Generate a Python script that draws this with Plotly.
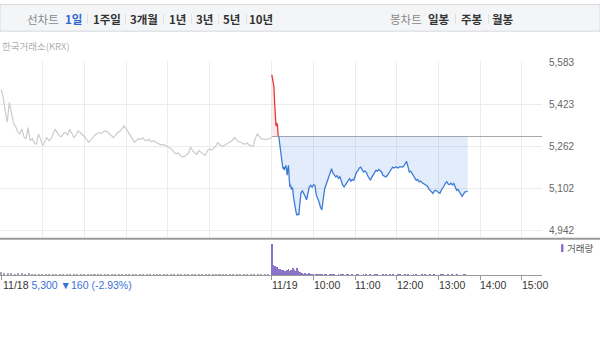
import plotly.graph_objects as go

W, H = 600, 342

# ---------------- data ----------------
PREV_CLOSE = 5300
PREV_PRICE = [
    5480, 5452, 5398, 5355, 5430, 5395, 5350, 5338, 5318, 5310,
    5328, 5300, 5290, 5334, 5284, 5292, 5275, 5271, 5309, 5290,
    5265, 5280, 5296, 5284, 5290, 5310, 5328, 5315, 5303, 5300,
    5312, 5315, 5305, 5328, 5310, 5296, 5305, 5321, 5315, 5309,
    5300, 5290, 5278, 5285, 5296, 5305, 5310, 5315, 5312, 5318,
    5321, 5318, 5310, 5300, 5296, 5305, 5315, 5320, 5332, 5340,
    5330, 5315, 5305, 5292, 5278, 5285, 5292, 5288, 5295, 5286,
    5284, 5290, 5280, 5284, 5278, 5275, 5271, 5268, 5270, 5265,
    5262, 5258, 5252, 5240, 5233, 5238, 5227, 5222, 5224, 5230,
    5236, 5260, 5245, 5238, 5232, 5246, 5240, 5232, 5227, 5245,
    5252, 5248, 5255, 5262, 5276, 5268, 5262, 5265, 5270, 5274,
    5278, 5285, 5296, 5288, 5280, 5278, 5274, 5270, 5276, 5268,
    5265, 5262, 5290, 5309, 5300, 5292, 5290, 5288, 5290, 5292,
    5296,
]
PREV_STEP = 3  # minutes between previous-day samples

TODAY_MIN = list(range(0, 41)) + list(range(42, 283, 2))
TODAY_PRICE = [
    5535, 5520, 5505, 5490, 5430, 5360, 5340, 5352, 5345, 5305, 5300,
    5275, 5245, 5228, 5215, 5196, 5177, 5183, 5172, 5184, 5190,
    5178, 5152, 5175, 5190, 5138, 5108, 5116, 5098, 5106, 5101,
    5072, 5051, 5040, 5022, 5010, 5001, 5001, 5004, 5001, 5035,
    5085, 5092, 5083, 5072, 5058, 5080, 5108, 5114, 5106, 5116,
    5114, 5077, 5065, 5050, 5030, 5020, 5060, 5100, 5115, 5132,
    5145, 5160, 5177, 5160, 5150, 5146, 5150, 5140, 5146, 5130,
    5115, 5108, 5115, 5121, 5128, 5139, 5130, 5136, 5133, 5150,
    5164, 5170, 5180, 5183, 5172, 5164, 5168, 5164, 5150, 5140,
    5133, 5145, 5152, 5162, 5171, 5168, 5174, 5171, 5165, 5152,
    5150, 5146, 5150, 5160, 5164, 5175, 5183, 5180, 5184, 5183,
    5180, 5185, 5183, 5183, 5186, 5195, 5205, 5185, 5164, 5168,
    5158, 5152, 5140, 5133, 5136, 5127, 5130, 5124, 5121, 5118,
    5114, 5110, 5100, 5095, 5090, 5083, 5092, 5095, 5090, 5088,
    5083, 5095, 5102, 5112, 5122, 5127, 5118, 5117, 5122, 5115,
    5121, 5108, 5095, 5098, 5089, 5085, 5072, 5080, 5089, 5090,
    5092,
]

PREV_VOL = [
    8, 5, 6, 7, 4, 5, 6, 4, 5, 3,
    4, 3, 4, 3, 2, 3, 4, 2, 3, 3,
    2, 3, 2, 3, 2, 2, 3, 2, 3, 2,
    2, 3, 2, 2, 3, 2, 2, 3, 2, 3,
    2, 2, 3, 2, 4, 3, 2, 3, 2, 2,
    3, 2, 2, 3, 2, 2, 3, 2, 2, 3,
    2, 3, 2, 2, 3, 2, 2, 3, 2, 2,
    3, 2, 2, 3, 2, 3, 2, 3, 4,
]
PREV_VOL_STEP = 5
TODAY_VOL = [
    92, 30, 26, 20, 24, 17, 19, 14, 16, 13,
    12, 15, 18, 11, 14, 21, 15, 13, 20, 12,
    9, 6, 5, 4, 5, 3, 4, 6, 3, 4,
    3, 0, 4, 3, 0, 3, 4, 0, 3, 2,
    0, 0, 3, 4, 0, 3, 0, 0, 3, 0,
    2, 3, 0, 0, 2, 3, 0, 0, 3, 0,
    0, 2, 3, 0, 0, 0, 3, 0, 2, 0,
    0, 3, 0, 0, 2, 0, 3, 0, 0, 0,
    3, 0, 2, 0, 0, 3, 0, 2, 0, 0,
    0, 2, 3, 0, 0, 0, 2, 0, 3, 0,
    0, 0, 2, 0, 3, 0, 0, 0, 2, 0,
    3, 0, 0, 0, 2, 0, 0, 3, 0, 0,
    0, 0, 2, 3, 0, 0, 0, 2, 0, 0,
    3, 0, 0, 2, 0, 0, 0, 0, 2, 3,
    0, 0,
]
TODAY_VOL_STEP = 2

Y_TICKS = [4942, 5102.25, 5262.5, 5422.75, 5583]
Y_LABELS = ["4,942", "5,102", "5,262", "5,423", "5,583"]
GRID_MIN = [60, 120, 180, 240, 300, 390, 450, 510, 570, 630, 690, 750]
TIME_TICKS = [390, 450, 510, 570, 630, 690, 750]
TIME_LABELS = ["11/19", "10:00", "11:00", "12:00", "13:00", "14:00", "15:00"]
DAY_OFFSET = 390  # minutes in one session

TABS_LEFT = ["선차트", "1일", "1주일", "3개월", "1년", "3년", "5년", "10년"]
TABS_RIGHT = ["봉차트", "일봉", "주봉", "월봉"]

# ---------------- helpers ----------------
def py(p):
    return 1 - p / H

def px_(p):
    return p / W

KFONT = "Noto Sans CJK KR"
NFONT = "Liberation Sans, Arial"

prev_x = [i * PREV_STEP for i in range(len(PREV_PRICE))]
today_x = [m + DAY_OFFSET for m in TODAY_MIN]

# split index where the price crosses the previous close
cross = next(i for i, v in enumerate(TODAY_PRICE) if v <= PREV_CLOSE)
red_x, red_y = today_x[:cross + 1], TODAY_PRICE[:cross + 1]
blue_x, blue_y = today_x[cross:], TODAY_PRICE[cross:]

fig = go.Figure()

# previous-close reference line
fig.add_trace(go.Scatter(x=[DAY_OFFSET, 2 * DAY_OFFSET], y=[PREV_CLOSE, PREV_CLOSE],
                         mode="lines", line=dict(color="#a9a9a9", width=1),
                         hoverinfo="skip", showlegend=False))
# fills
fig.add_trace(go.Scatter(x=red_x + [red_x[-1], red_x[0]], y=red_y + [PREV_CLOSE, PREV_CLOSE],
                         mode="lines", fill="toself", fillcolor="rgba(240,90,90,0.13)",
                         line=dict(width=0), hoverinfo="skip", showlegend=False))
fig.add_trace(go.Scatter(x=blue_x + [blue_x[-1], blue_x[0]], y=blue_y + [PREV_CLOSE, PREV_CLOSE],
                         mode="lines", fill="toself", fillcolor="rgba(70,130,225,0.15)",
                         line=dict(width=0), hoverinfo="skip", showlegend=False))
# price lines
fig.add_trace(go.Scatter(x=prev_x, y=PREV_PRICE, mode="lines",
                         line=dict(color="#cccccc", width=1.2), showlegend=False))
fig.add_trace(go.Scatter(x=red_x, y=red_y, mode="lines",
                         line=dict(color="#e8383d", width=1.3), showlegend=False))
fig.add_trace(go.Scatter(x=blue_x, y=blue_y, mode="lines",
                         line=dict(color="#3e7bd6", width=1.3), showlegend=False))

# volume
fig.add_trace(go.Bar(x=[i * PREV_VOL_STEP for i in range(len(PREV_VOL))], y=PREV_VOL,
                     width=2.2, marker=dict(color="#a6a4b4", line=dict(width=0)),
                     xaxis="x2", yaxis="y2", showlegend=False))
fig.add_trace(go.Bar(x=[DAY_OFFSET + i * TODAY_VOL_STEP for i in range(len(TODAY_VOL))], y=TODAY_VOL,
                     width=1.4, marker=dict(color="#8b73c9", line=dict(width=0)),
                     xaxis="x2", yaxis="y2", showlegend=False))

x_end = 542
dom_x = [0, px_(x_end)]
# range: 1px offset, 60 min = 41.67px
ppm = 41.667 / 60
xr = [-1 / ppm, (x_end - 1) / ppm]

fig.update_layout(
    width=W, height=H, margin=dict(l=0, r=0, t=0, b=0),
    paper_bgcolor="white", plot_bgcolor="white",
    barmode="overlay", bargap=0,
    xaxis=dict(domain=dom_x, range=xr, tickvals=GRID_MIN, showticklabels=False,
               showgrid=True, gridcolor="#ececec", gridwidth=1, zeroline=False,
               ticks="", anchor="y", fixedrange=True),
    yaxis=dict(domain=[py(237.5), py(58)], range=[4910, 5586.8], side="right",
               tickvals=Y_TICKS, ticktext=Y_LABELS, ticks="", ticklabelstandoff=6,
               tickfont=dict(family=NFONT, size=10, color="#666"),
               showgrid=True, gridcolor="#ececec", zeroline=False, anchor="x"),
    xaxis2=dict(domain=dom_x, matches="x", anchor="y2", tickvals=[0] + TIME_TICKS,
                showticklabels=False, ticks="outside", ticklen=4, tickcolor="#999",
                showgrid=False, zeroline=False, showline=True, linecolor="#999", linewidth=1),
    yaxis2=dict(domain=[py(274.5), py(240)], range=[0, 100], visible=False),
    showlegend=False,
)

shapes = []
annotations = []
# top toolbar
shapes.append(dict(type="rect", xref="paper", yref="paper", x0=0, x1=1, y0=py(27.5), y1=py(0.5),
                   fillcolor="#f4f5f7", line=dict(color="#d6d8dc", width=1), layer="below"))
left_centers = [43, 73, 107, 144, 177, 204.5, 231.5, 261]
for i, (t, cx) in enumerate(zip(TABS_LEFT, left_centers)):
    color = "#8a8a8a" if i == 0 else ("#2f66cf" if i == 1 else "#333333")
    txt = t if i == 0 else "<b>%s</b>" % t
    annotations.append(dict(x=px_(cx), y=py(15), xref="paper", yref="paper", text=txt,
                            showarrow=False, xanchor="center", yanchor="middle",
                            font=dict(family=KFONT, size=11.5, color=color)))
for sx in [87.5, 125.5, 163.5, 191.5, 218.5, 246.5]:
    shapes.append(dict(type="line", xref="paper", yref="paper", x0=px_(sx), x1=px_(sx),
                       y0=py(20), y1=py(10), line=dict(color="#e0e0e0", width=1)))
right_centers = [406, 438.5, 472, 503]
for i, (t, cx) in enumerate(zip(TABS_RIGHT, right_centers)):
    color = "#8a8a8a" if i == 0 else "#333333"
    txt = t if i == 0 else "<b>%s</b>" % t
    annotations.append(dict(x=px_(cx), y=py(15), xref="paper", yref="paper", text=txt,
                            showarrow=False, xanchor="center", yanchor="middle",
                            font=dict(family=KFONT, size=11.5, color=color)))
for sx in [455.5, 488.5]:
    shapes.append(dict(type="line", xref="paper", yref="paper", x0=px_(sx), x1=px_(sx),
                       y0=py(20), y1=py(10), line=dict(color="#e0e0e0", width=1)))

# exchange label
annotations.append(dict(x=0, y=py(43), xref="paper", yref="paper", text="한국거래소(KRX)",
                        showarrow=False, xanchor="left", yanchor="middle",
                        font=dict(family=KFONT, size=9.5, color="#b0b0b0")))

# dark separator under price panel
shapes.append(dict(type="line", xref="paper", yref="paper", x0=0, x1=1, y0=py(237.5), y1=py(237.5),
                   line=dict(color="#9a9a9a", width=2)))

# volume legend
shapes.append(dict(type="rect", xref="paper", yref="paper", x0=px_(561), x1=px_(563.5),
                   y0=py(251), y1=py(243), fillcolor="#8b73c9", line=dict(width=0)))
annotations.append(dict(x=px_(565), y=py(247), xref="paper", yref="paper", text="거래량",
                        showarrow=False, xanchor="left", yanchor="middle",
                        font=dict(family=KFONT, size=9.5, color="#555")))

# x labels (left aligned at ticks)
for t, lab in zip(TIME_TICKS, TIME_LABELS):
    annotations.append(dict(x=t, y=py(284), xref="x", yref="paper", text=lab, showarrow=False,
                            xanchor="left", yanchor="middle", xshift=-2,
                            font=dict(family=NFONT, size=10.5, color="#333")))
annotations.append(dict(x=0, y=py(284), xref="paper", yref="paper",
                        text="11/18 <span style='color:#3a72d6'>5,300 ▼160 (-2.93%)</span>",
                        showarrow=False, xanchor="left", yanchor="middle", xshift=1,
                        font=dict(family=NFONT, size=10.5, color="#333")))

fig.update_layout(shapes=shapes, annotations=annotations)
fig.write_html("out.html")
